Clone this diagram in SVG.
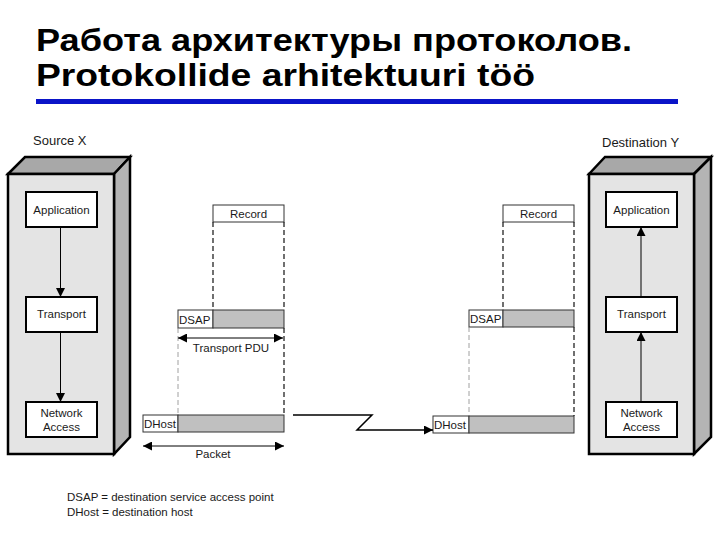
<svg xmlns="http://www.w3.org/2000/svg" width="720" height="540" viewBox="0 0 720 540">
<defs>
<style>
text{font-family:"Liberation Sans",Arial,sans-serif;fill:#1a1a1a}
.title{font-weight:bold;font-size:32px;fill:#000}
.lbl{font-size:13px}
.t{font-size:11.5px;text-anchor:middle}
.s{font-size:11.5px}
.front{fill:#e4e4e4;stroke:#000;stroke-width:2.5}
.side{fill:#b4b4b4;stroke:#000;stroke-width:2.5;stroke-linejoin:miter}
.top{fill:#a8a8a8;stroke:#000;stroke-width:2.5;stroke-linejoin:miter}
.box{fill:#fff;stroke:#000;stroke-width:2}
.cell{fill:#fff;stroke:#333;stroke-width:1}
.gcell{fill:#c0c0c0;stroke:#333;stroke-width:1}
.dash{stroke:#111;stroke-width:1.2;stroke-dasharray:5 3;fill:none}
.dashl{stroke:#888;stroke-width:0.8;stroke-dasharray:5 3;fill:none}
.ln{stroke:#000;stroke-width:1;fill:none}
</style>
<marker id="ah" viewBox="0 0 10 10" refX="10" refY="5" markerWidth="10" markerHeight="9" markerUnits="userSpaceOnUse" orient="auto">
<path d="M0,0 L10,5 L0,10 z" fill="#000"/>
</marker>
<marker id="ahs" viewBox="0 0 10 10" refX="0" refY="5" markerWidth="10" markerHeight="9" markerUnits="userSpaceOnUse" orient="auto">
<path d="M10,0 L0,5 L10,10 z" fill="#000"/>
</marker>
</defs>
<rect width="720" height="540" fill="#fff"/>

<g id="title">
<text class="title" x="36" y="51" textLength="596" lengthAdjust="spacingAndGlyphs">Работа архитектуры протоколов.</text>
<text class="title" x="36" y="86" textLength="499" lengthAdjust="spacingAndGlyphs">Protokollide arhitektuuri töö</text>
<rect x="36" y="99" width="642" height="5" fill="#0a14c8"/>
</g>

<g id="sourceX">
<text class="lbl" x="33" y="145">Source X</text>
<polygon class="top" points="8,174 25,157 130,157 114,174"/>
<polygon class="side" points="114,174 130,157 130,437 114,454"/>
<rect class="front" x="8" y="174" width="106" height="280"/>
</g>
<g id="srcApplication">
<rect class="box" x="26" y="192" width="71" height="35"/>
<text class="t" x="61.5" y="213.5">Application</text>
</g>
<g id="srcTransport">
<rect class="box" x="26" y="297" width="71" height="35"/>
<text class="t" x="61.5" y="318">Transport</text>
</g>
<g id="srcNetwork">
<rect class="box" x="26" y="402" width="71" height="35"/>
<text class="t" x="61.5" y="416.5">Network</text>
<text class="t" x="61.5" y="430.5">Access</text>
</g>

<g id="destY">
<text class="lbl" x="602" y="147">Destination Y</text>
<polygon class="top" points="589,174 605,157 711,157 694,174"/>
<polygon class="side" points="694,174 711,157 711,437 694,454"/>
<rect class="front" x="589" y="174" width="105" height="280"/>
</g>
<g id="dstApplication">
<rect class="box" x="606" y="192" width="71" height="35"/>
<text class="t" x="641.5" y="213.5">Application</text>
</g>
<g id="dstTransport">
<rect class="box" x="606" y="297" width="71" height="35"/>
<text class="t" x="641.5" y="318">Transport</text>
</g>
<g id="dstNetwork">
<rect class="box" x="606" y="402" width="71" height="35"/>
<text class="t" x="641.5" y="416.5">Network</text>
<text class="t" x="641.5" y="430.5">Access</text>
</g>

<g id="leftPDU">
<rect class="cell" x="213" y="205" width="71" height="17"/>
<text class="t" x="248.5" y="218">Record</text>
<rect class="cell" x="178" y="310" width="35" height="18"/>
<rect class="gcell" x="213" y="310" width="71" height="18"/>
<text class="s" x="179" y="323.5">DSAP</text>
<rect class="cell" x="143" y="415" width="35" height="17"/>
<rect class="gcell" x="178" y="415" width="106" height="17"/>
<text class="s" x="144" y="428">DHost</text>
<text class="t" x="231" y="352">Transport PDU</text>
<text class="t" x="213" y="458">Packet</text>
</g>

<g id="rightPDU">
<rect class="cell" x="503" y="205" width="71" height="17"/>
<text class="t" x="538.5" y="218">Record</text>
<rect class="cell" x="469" y="310" width="34" height="17"/>
<rect class="gcell" x="503" y="310" width="71" height="17"/>
<text class="s" x="470" y="323">DSAP</text>
<rect class="cell" x="433" y="416" width="36" height="17"/>
<rect class="gcell" x="469" y="416" width="105" height="17"/>
<text class="s" x="434" y="429">DHost</text>
</g>

<g id="legend">
<text class="s" x="67" y="501">DSAP = destination service access point</text>
<text class="s" x="67" y="516">DHost = destination host</text>
</g>

<g id="connectors">
<line class="ln" x1="60.5" y1="227" x2="60.5" y2="297" marker-end="url(#ah)"/>
<line class="ln" x1="60.5" y1="332" x2="60.5" y2="402" marker-end="url(#ah)"/>
<line class="ln" x1="641" y1="297" x2="641" y2="227" marker-end="url(#ah)"/>
<line class="ln" x1="641" y1="402" x2="641" y2="332" marker-end="url(#ah)"/>
<line class="dash" x1="213" y1="222" x2="213" y2="310"/>
<line class="dash" x1="284" y1="222" x2="284" y2="310"/>
<line class="dashl" x1="178" y1="328" x2="178" y2="415"/>
<line class="dash" x1="284" y1="328" x2="284" y2="415"/>
<line class="dash" x1="503" y1="222" x2="503" y2="310"/>
<line class="dash" x1="574" y1="222" x2="574" y2="310"/>
<line class="dashl" x1="469" y1="327" x2="469" y2="416"/>
<line class="dash" x1="574" y1="327" x2="574" y2="416"/>
<line class="ln" x1="178" y1="338" x2="283" y2="338" marker-start="url(#ahs)" marker-end="url(#ah)"/>
<line class="ln" x1="143" y1="446" x2="284" y2="446" marker-start="url(#ahs)" marker-end="url(#ah)"/>
<polyline points="293,415 372,415 357,430 433,430" fill="none" stroke="#000" stroke-width="1.5" marker-end="url(#ah)"/>
</g>
</svg>
